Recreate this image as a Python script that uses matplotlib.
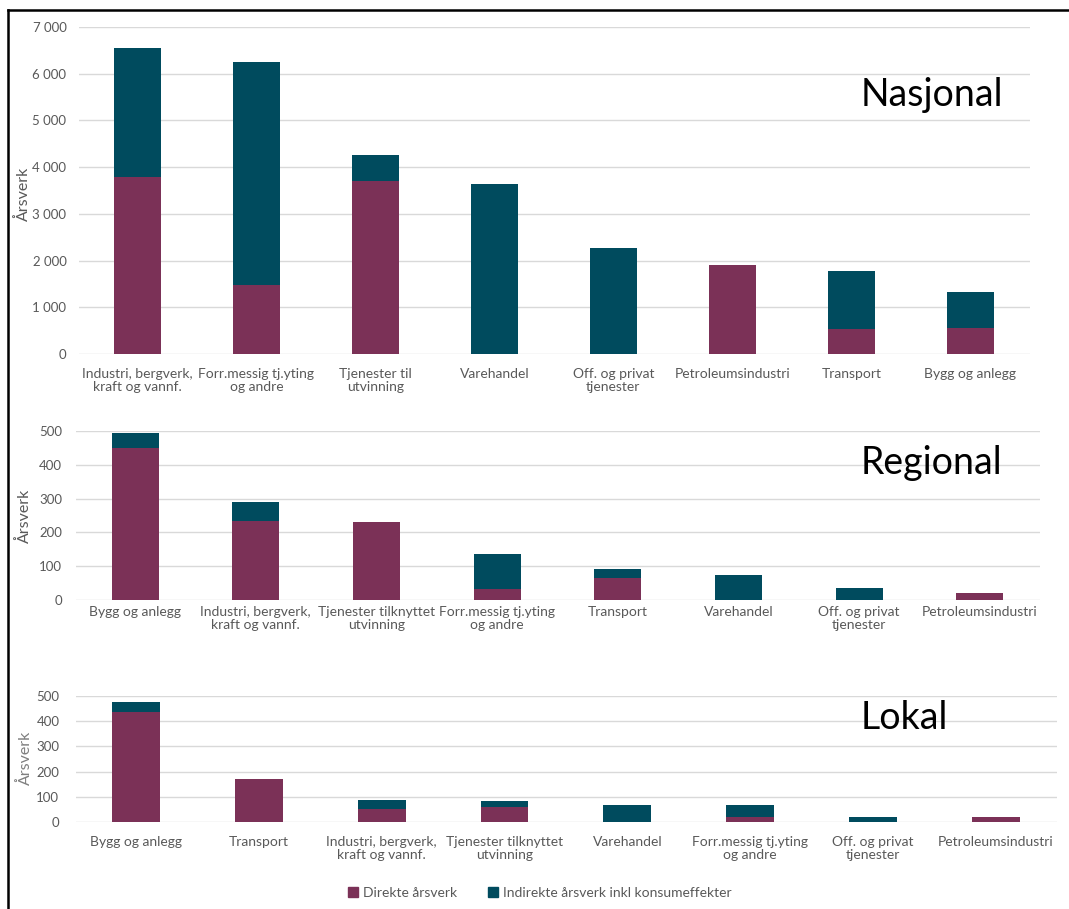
import matplotlib.pyplot as plt
from matplotlib.patches import Patch
from matplotlib.lines import Line2D
from matplotlib.ticker import FuncFormatter, MultipleLocator
import numpy as np

plt.rcParams['font.family'] = ['Lato', 'DejaVu Sans']

# Nasjonal
nasj_kat = ["Industri, bergverk,\nkraft og vannf.", "Forr.messig tj.yting\nog andre",
            "Tjenester til\nutvinning", "Varehandel", "Off. og privat\ntjenester",
            "Petroleumsindustri", "Transport", "Bygg og anlegg"]
nasj_direkte = [3790, 1480, 3710, 0, 0, 1910, 530, 560]
nasj_indirekte = [2770, 4780, 560, 3630, 2260, 0, 1240, 775]

# Regional
reg_kat = ["Bygg og anlegg", "Industri, bergverk,\nkraft og vannf.",
           "Tjenester tilknyttet\nutvinning", "Forr.messig tj.yting\nog andre",
           "Transport", "Varehandel", "Off. og privat\ntjenester", "Petroleumsindustri"]
reg_direkte = [450, 234, 231, 32, 64, 0, 0, 21]
reg_indirekte = [43, 56, 0, 103, 27, 73, 35, 0]

# Lokal
lok_kat = ["Bygg og anlegg", "Transport", "Industri, bergverk,\nkraft og vannf.",
           "Tjenester tilknyttet\nutvinning", "Varehandel", "Forr.messig tj.yting\nog andre",
           "Off. og privat\ntjenester", "Petroleumsindustri"]
lok_direkte = [436, 172, 51, 62, 0, 22, 0, 22]
lok_indirekte = [39, 0, 36, 21, 67, 45, 22, 0]

LILLA = "#7B3157"
PETROL = "#004B5E"
GRAA = "#595959"
GRID = "#D9D9D9"


def tusen(v, pos):
    return f"{int(v):,}".replace(",", " ")


def panel(rect, kat, direkte, indirekte, ymax, step, tittel, tittel_y,
          xpad, ypad, ylab_pos, ylab_farge):
    ax = fig.add_axes(rect)
    x = np.arange(len(kat))
    ax.bar(x, direkte, 0.39, color=LILLA, zorder=3)
    ax.bar(x, indirekte, 0.39, bottom=direkte, color=PETROL, zorder=3)
    ax.set_xlim(-0.49, 7.5)
    ax.set_ylim(0, ymax)
    ax.yaxis.set_major_locator(MultipleLocator(step))
    ax.yaxis.set_major_formatter(FuncFormatter(tusen))
    ax.grid(axis='y', color=GRID, lw=1, zorder=0)
    for s in ax.spines.values():
        s.set_visible(False)
    ax.set_xticks(x)
    ax.set_xticklabels(kat)
    ax.tick_params(axis='x', length=0, pad=xpad, labelsize=10, labelcolor=GRAA)
    ax.tick_params(axis='y', length=0, pad=ypad, labelsize=9.5, labelcolor=GRAA)
    for t in ax.get_xticklabels():
        t.set_linespacing(1.1)
    ax.set_ylabel("Årsverk", fontsize=11.5, color=ylab_farge)
    ax.yaxis.set_label_coords(*ylab_pos)
    fig.text(861 / 1069, tittel_y, tittel, fontsize=27, color="black", va='baseline')
    return ax


fig = plt.figure(figsize=(10.69, 9.09), dpi=100)

panel([0.0739, 0.6106, 0.8896, 0.3597], nasj_kat, nasj_direkte, nasj_indirekte,
      7000, 1000, "Nasjonal", 1 - 106 / 909, 10, 9, (-0.050, 0.49), GRAA)
panel([0.0711, 0.3399, 0.9018, 0.1859], reg_kat, reg_direkte, reg_indirekte,
      500, 100, "Regional", 1 - 474 / 909, 4.5, 10, (-0.046, 0.50), GRAA)
panel([0.0711, 0.0954, 0.9177, 0.1393], lok_kat, lok_direkte, lok_indirekte,
      500, 100, "Lokal", 1 - 729 / 909, 10, 12, (-0.044, 0.51), "#7F7F7F")

handles = [Patch(color=LILLA, label="Direkte årsverk"),
           Patch(color=PETROL, label="Indirekte årsverk inkl konsumeffekter")]
fig.legend(handles=handles, loc='center', bbox_to_anchor=(0.505, 0.018), ncol=2,
           frameon=False, fontsize=10, labelcolor=GRAA, handlelength=0.7,
           handleheight=0.7, handletextpad=0.4, columnspacing=2.2)

# ramme oppe og til venstre
fig.add_artist(Line2D([8 / 1069, 8 / 1069], [0, 1 - 10 / 909], color="black", lw=1.8))
fig.add_artist(Line2D([8 / 1069, 1], [1 - 10 / 909, 1 - 10 / 909], color="black", lw=1.8))

fig.savefig("out.png", dpi=100)
